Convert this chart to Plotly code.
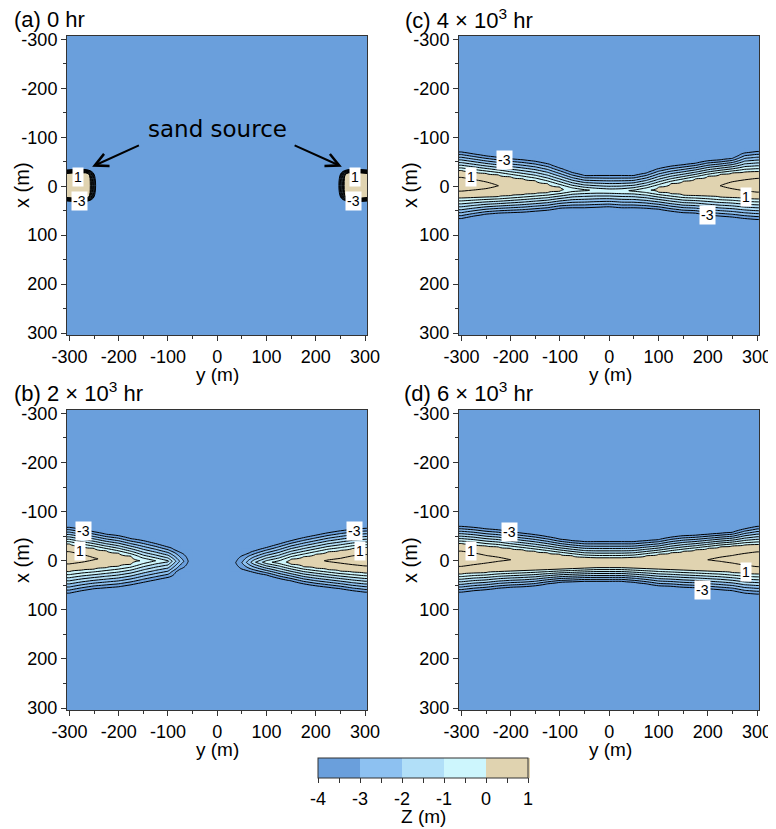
import numpy as np
import plotly.graph_objects as go

# ---------------- data ----------------
y_stations = list(range(-300, 301, 25))          # along-channel stations y (m)

# panel (a) 0 hr : sand source blocks
a_y = [-306, -262, -249, 249, 262, 306]
a_x = [-307, -34, -25, 22, 31, 305]
a_z = [
    [-4, -4, -4, -4, -4, -4],
    [-4, -4, -4, -4, -4, -4],
    [0.9, 0.9, -4, -4, 0.9, 0.9],
    [0.9, 0.9, -4, -4, 0.9, 0.9],
    [-4, -4, -4, -4, -4, -4],
    [-4, -4, -4, -4, -4, -4],
]

# panel (b) 2e3 hr
b_outer_top = [-68, -64, -59, -54, -51, -45, -41, -35, -28, -17, None, None, None, None,
               -10, -20, -27, -34, -41, -47, -52, -57, -61, -64, -66]
b_outer_bot = [66, 61, 57, 55, 53, 49, 44, 39, 34, 17, None, None, None, None,
               17, 24, 29, 36, 41, 47, 51, 54, 57, 61, 64]
b_ridge_x = [-6, -5, -4, -3, -2, -1, 0, 0, 1, 1, None, None, None, None,
             4, 3, 3, 3, 2, 2, 1, 0, 0, -1, -1]
b_crest = [0.9, 0.75, 0.55, 0.42, 0.3, 0.15, -0.05, -0.5, -0.9, -2.6, -4, -4, -4, -4,
           -3.0, -1.6, -0.7, -0.25, 0.2, 0.3, 0.42, 0.55, 0.65, 0.8, 0.9]
b_tan_half = [28, 24, 21, 17, 13, 8, 0, 0, 0, 0, 0, 0, 0, 0,
              0, 0, 0, 0, 5, 10, 14, 18, 21, 24, 26]

# panel (c) 4e3 hr
c_outer_top = [-70, -66, -62, -59, -56, -54, -51, -46, -37, -28, -22, -22, -22, -22, -22,
               -27, -36, -41, -44, -47, -52, -54, -57, -68, -71]
c_outer_bot = [66, 61, 57, 55, 54, 53, 51, 49, 45, 44, 44, 43, 42, 44, 44,
               45, 47, 51, 54, 55, 59, 61, 63, 66, 68]
c_ridge_x = [-4, -3, -2, -1, 0, 1, 2, 4, 6, 7, 8, 9, 10, 10, 9, 8, 7, 5, 4, 2, 0, -1, -2, -2, -2]
c_crest = [1.0, 0.85, 0.7, 0.5, 0.42, 0.35, 0.28, 0.2, 0.08, -0.15, -0.4, -0.55, -0.6,
           -0.55, -0.4, -0.05, 0.1, 0.2, 0.28, 0.35, 0.42, 0.5, 0.7, 0.85, 1.0]
c_tan_half = [28, 26, 24, 22, 19, 16, 13, 9, 4, 0, 0, 0, 0, 0, 0, 0, 5, 10, 14, 17, 20, 23, 25, 27, 28]

# panel (d) 6e3 hr
d_outer_top = [-70, -68, -65, -63, -59, -56, -53, -49, -44, -41, -39, -39, -39, -39, -39,
               -41, -43, -48, -51, -52, -54, -56, -58, -65, -70]
d_outer_bot = [64, 61, 59, 56, 54, 53, 51, 47, 44, 43, 42, 42, 42, 42, 44,
               47, 51, 52, 54, 55, 57, 59, 61, 66, 68]
d_ridge_x = [-4, -4, -3, -3, -2, -1, 0, 1, 2, 3, 4, 4, 4, 4, 4, 3, 2, 1, 0, -1, -2, -3, -3, -3, -3]
d_crest = [1.0, 0.85, 0.7, 0.6, 0.5, 0.45, 0.4, 0.35, 0.3, 0.27, 0.25, 0.22, 0.2, 0.22, 0.25,
           0.27, 0.3, 0.35, 0.4, 0.45, 0.5, 0.6, 0.7, 0.85, 1.0]
d_tan_half = [31, 29, 27, 25, 23, 21, 19, 17, 15, 13, 11, 10, 10, 10, 11, 13, 15, 17, 19, 21,
              23, 25, 27, 29, 30]

tick_vals = [-300, -200, -100, 0, 100, 200, 300]
tick_text = ["-300", "-200", "-100", "0", "100", "200", "300"]
cbar_vals = [-4, -3.5, -3, -2.5, -2, -1.5, -1, -0.5, 0, 0.5, 1]
cbar_text = ["-4", "", "-3", "", "-2", "", "-1", "", "0", "", "1"]
band_colors = ["#6a9fdc", "#8dc1f1", "#b1dff8", "#cdf6fd", "#e0d3b0"]

# labels: (panel, text, y, x)
labels = [
    (1, "1", -282, -18), (1, "-3", -279, 31), (1, "1", 280, -18), (1, "-3", 276, 31),
    (2, "-3", -213, -54), (2, "1", -281, -19), (2, "1", 278, 22), (2, "-3", 200, 59),
    (3, "-3", -272, -60), (3, "1", -279, -19), (3, "-3", 279, -60), (3, "1", 289, -19),
    (4, "-3", -203, -58), (4, "1", -281, -19), (4, "1", 278, 22), (4, "-3", 190, 59),
]

# ---------------- build grids ----------------
x_fine = np.arange(-307, 306, 1.0)


def build(outer_top, outer_bot, ridge_x, crest, tan_half):
    cols = []
    for ot, ob, rx, c, th in zip(outer_top, outer_bot, ridge_x, crest, tan_half):
        if ot is None or c <= -4:
            cols.append(np.full_like(x_fine, -4.0))
            continue
        if c > 0 and th > 0:
            kx = [ot - 6, ot, rx - th, rx, rx + th, ob, ob + 6]
            kz = [-4, -3.5, 0, c, 0, -3.5, -4]
        else:
            kx = [ot - 6, ot, rx, ob, ob + 6]
            kz = [-4, -3.5, c, -3.5, -4]
        cols.append(np.interp(x_fine, kx, kz, left=-4, right=-4))
    Z = np.array(cols).T
    Z = np.column_stack([Z[:, 0], Z, Z[:, -1]])
    ycols = [-306] + y_stations + [306]
    return ycols, Z


panels = {
    1: (a_y, a_x, np.array(a_z, dtype=float)),
}
yb, zb = build(b_outer_top, b_outer_bot, b_ridge_x, b_crest, b_tan_half)
yc, zc = build(c_outer_top, c_outer_bot, c_ridge_x, c_crest, c_tan_half)
yd, zd = build(d_outer_top, d_outer_bot, d_ridge_x, d_crest, d_tan_half)
panels[2] = (yc, x_fine, zc)
panels[3] = (yb, x_fine, zb)
panels[4] = (yd, x_fine, zd)

# page body adds an 8 px offset: size figure so it ends at the window edge
OFF = 8
W, H = 776 - OFF, 829 - OFF
px = lambda v: (v - OFF) / W
py = lambda v: 1 - (v - OFF) / H

cscale = []
for i, col in enumerate(band_colors):
    cscale.append([i / 5, col])
    cscale.append([(i + 1) / 5, col])

fig = go.Figure()
for k in [1, 2, 3, 4]:
    yy, xx, zz = panels[k]
    xa = "x" if k == 1 else f"x{k}"
    ya = "y" if k == 1 else f"y{k}"
    fig.add_trace(go.Contour(
        x=yy, y=xx, z=zz, xaxis=xa, yaxis=ya,
        zmin=-4, zmax=1, colorscale=cscale,
        contours=dict(start=-4, end=1, size=1, coloring="fill", showlines=False),
        line=dict(width=0), hoverinfo="skip",
        showscale=(k == 1),
        colorbar=dict(orientation="h", x=px(423), xanchor="center", y=py(758), yanchor="top",
                      len=210, lenmode="pixels", thickness=20, thicknessmode="pixels",
                      outlinewidth=1, outlinecolor="#333", xpad=0, ypad=0,
                      tickmode="array", tickvals=cbar_vals, ticktext=cbar_text,
                      ticks="outside", ticklen=5, tickcolor="#333",
                      tickfont=dict(size=18, color="black", family="Liberation Sans, Arial")),
    ))
    fig.add_trace(go.Contour(
        x=yy, y=xx, z=zz, xaxis=xa, yaxis=ya,
        contours=dict(start=-3.5, end=0.5, size=0.5, coloring="none", showlines=True),
        line=dict(color="black", width=1), showscale=False, hoverinfo="skip",
    ))

doms_x = {1: [67, 367], 2: [459, 759], 3: [67, 367], 4: [459, 759]}
doms_y = {1: [36, 335], 2: [36, 335], 3: [410, 710], 4: [410, 710]}
axfont = dict(size=18, color="black", family="Liberation Sans, Arial")
layout = {}
for k in [1, 2, 3, 4]:
    xn = "xaxis" if k == 1 else f"xaxis{k}"
    yn = "yaxis" if k == 1 else f"yaxis{k}"
    ya = "y" if k == 1 else f"y{k}"
    xa = "x" if k == 1 else f"x{k}"
    layout[xn] = dict(domain=[px(doms_x[k][0]), px(doms_x[k][1])], anchor=ya,
                      range=[-305, 304], tickmode="array", tickvals=tick_vals, ticktext=tick_text,
                      ticks="outside", ticklen=5, tickcolor="#333", tickfont=axfont,
                      minor=dict(tickmode="linear", tick0=-300, dtick=50, ticks="outside",
                                 ticklen=3, tickcolor="#333"),
                      showline=True, mirror=True, linecolor="#333", linewidth=1,
                      showgrid=False, zeroline=False, automargin=False)
    layout[yn] = dict(domain=[py(doms_y[k][1]), py(doms_y[k][0])], anchor=xa,
                      range=[304, -307], tickmode="array", tickvals=tick_vals, ticktext=tick_text,
                      ticks="outside", ticklen=5, tickcolor="#333", tickfont=axfont,
                      minor=dict(tickmode="linear", tick0=-300, dtick=50, ticks="outside",
                                 ticklen=3, tickcolor="#333"),
                      showline=True, mirror=True, linecolor="#333", linewidth=1,
                      showgrid=False, zeroline=False, automargin=False)

ann = []
titles = [("(a) 0 hr", 12, 19), ("(c) 4 × 10<sup>3</sup> hr", 403, 19),
          ("(b) 2 × 10<sup>3</sup> hr", 12, 392), ("(d) 6 × 10<sup>3</sup> hr", 402, 392)]
for t, x0, y0 in titles:
    ann.append(dict(text=t, x=px(x0), y=py(y0), xref="paper", yref="paper", showarrow=False,
                    xanchor="left", yanchor="middle",
                    font=dict(size=22, color="black", family="Liberation Sans, Arial")))
for cx, cy in [(217, 374), (610, 374), (217, 749), (610, 749)]:
    ann.append(dict(text="y (m)", x=px(cx), y=py(cy), xref="paper", yref="paper", showarrow=False,
                    xanchor="center", yanchor="middle",
                    font=dict(size=19, color="black", family="Liberation Sans, Arial")))
for cx, cy in [(22, 185), (410, 185), (22, 560), (410, 560)]:
    ann.append(dict(text="x (m)", x=px(cx), y=py(cy), xref="paper", yref="paper", showarrow=False,
                    textangle=-90, xanchor="center", yanchor="middle",
                    font=dict(size=20, color="black", family="Liberation Sans, Arial")))
ann.append(dict(text="Z (m)", x=px(423), y=py(816), xref="paper", yref="paper", showarrow=False,
                xanchor="center", yanchor="middle",
                font=dict(size=19, color="black", family="Liberation Sans, Arial")))
for k, t, yv, xv in labels:
    xa = "x" if k == 1 else f"x{k}"
    ya = "y" if k == 1 else f"y{k}"
    ann.append(dict(text=t, x=yv, y=xv, xref=xa, yref=ya, showarrow=False,
                    xanchor="center", yanchor="middle", bgcolor="white", borderpad=1,
                    font=dict(size=14, color="black", family="Liberation Sans, Arial")))
# sand source
ann.append(dict(text="sand source", x=0, y=-116, xref="x", yref="y", showarrow=False,
                xanchor="center", yanchor="middle",
                font=dict(size=23, color="black", family="DejaVu Sans")))
for hx, tx in [(-254, -156), (253, 154)]:
    ann.append(dict(text="", x=hx, y=-40, ax=tx, ay=-85, xref="x", yref="y", axref="x", ayref="y",
                    showarrow=True, arrowhead=5, arrowsize=1.3, arrowwidth=2, arrowcolor="black"))

fig.update_layout(width=W, height=H, margin=dict(l=0, r=0, t=0, b=0, autoexpand=False),
                  paper_bgcolor="white", plot_bgcolor=band_colors[0],
                  showlegend=False, annotations=ann, **layout)
fig.write_html("out.html")
